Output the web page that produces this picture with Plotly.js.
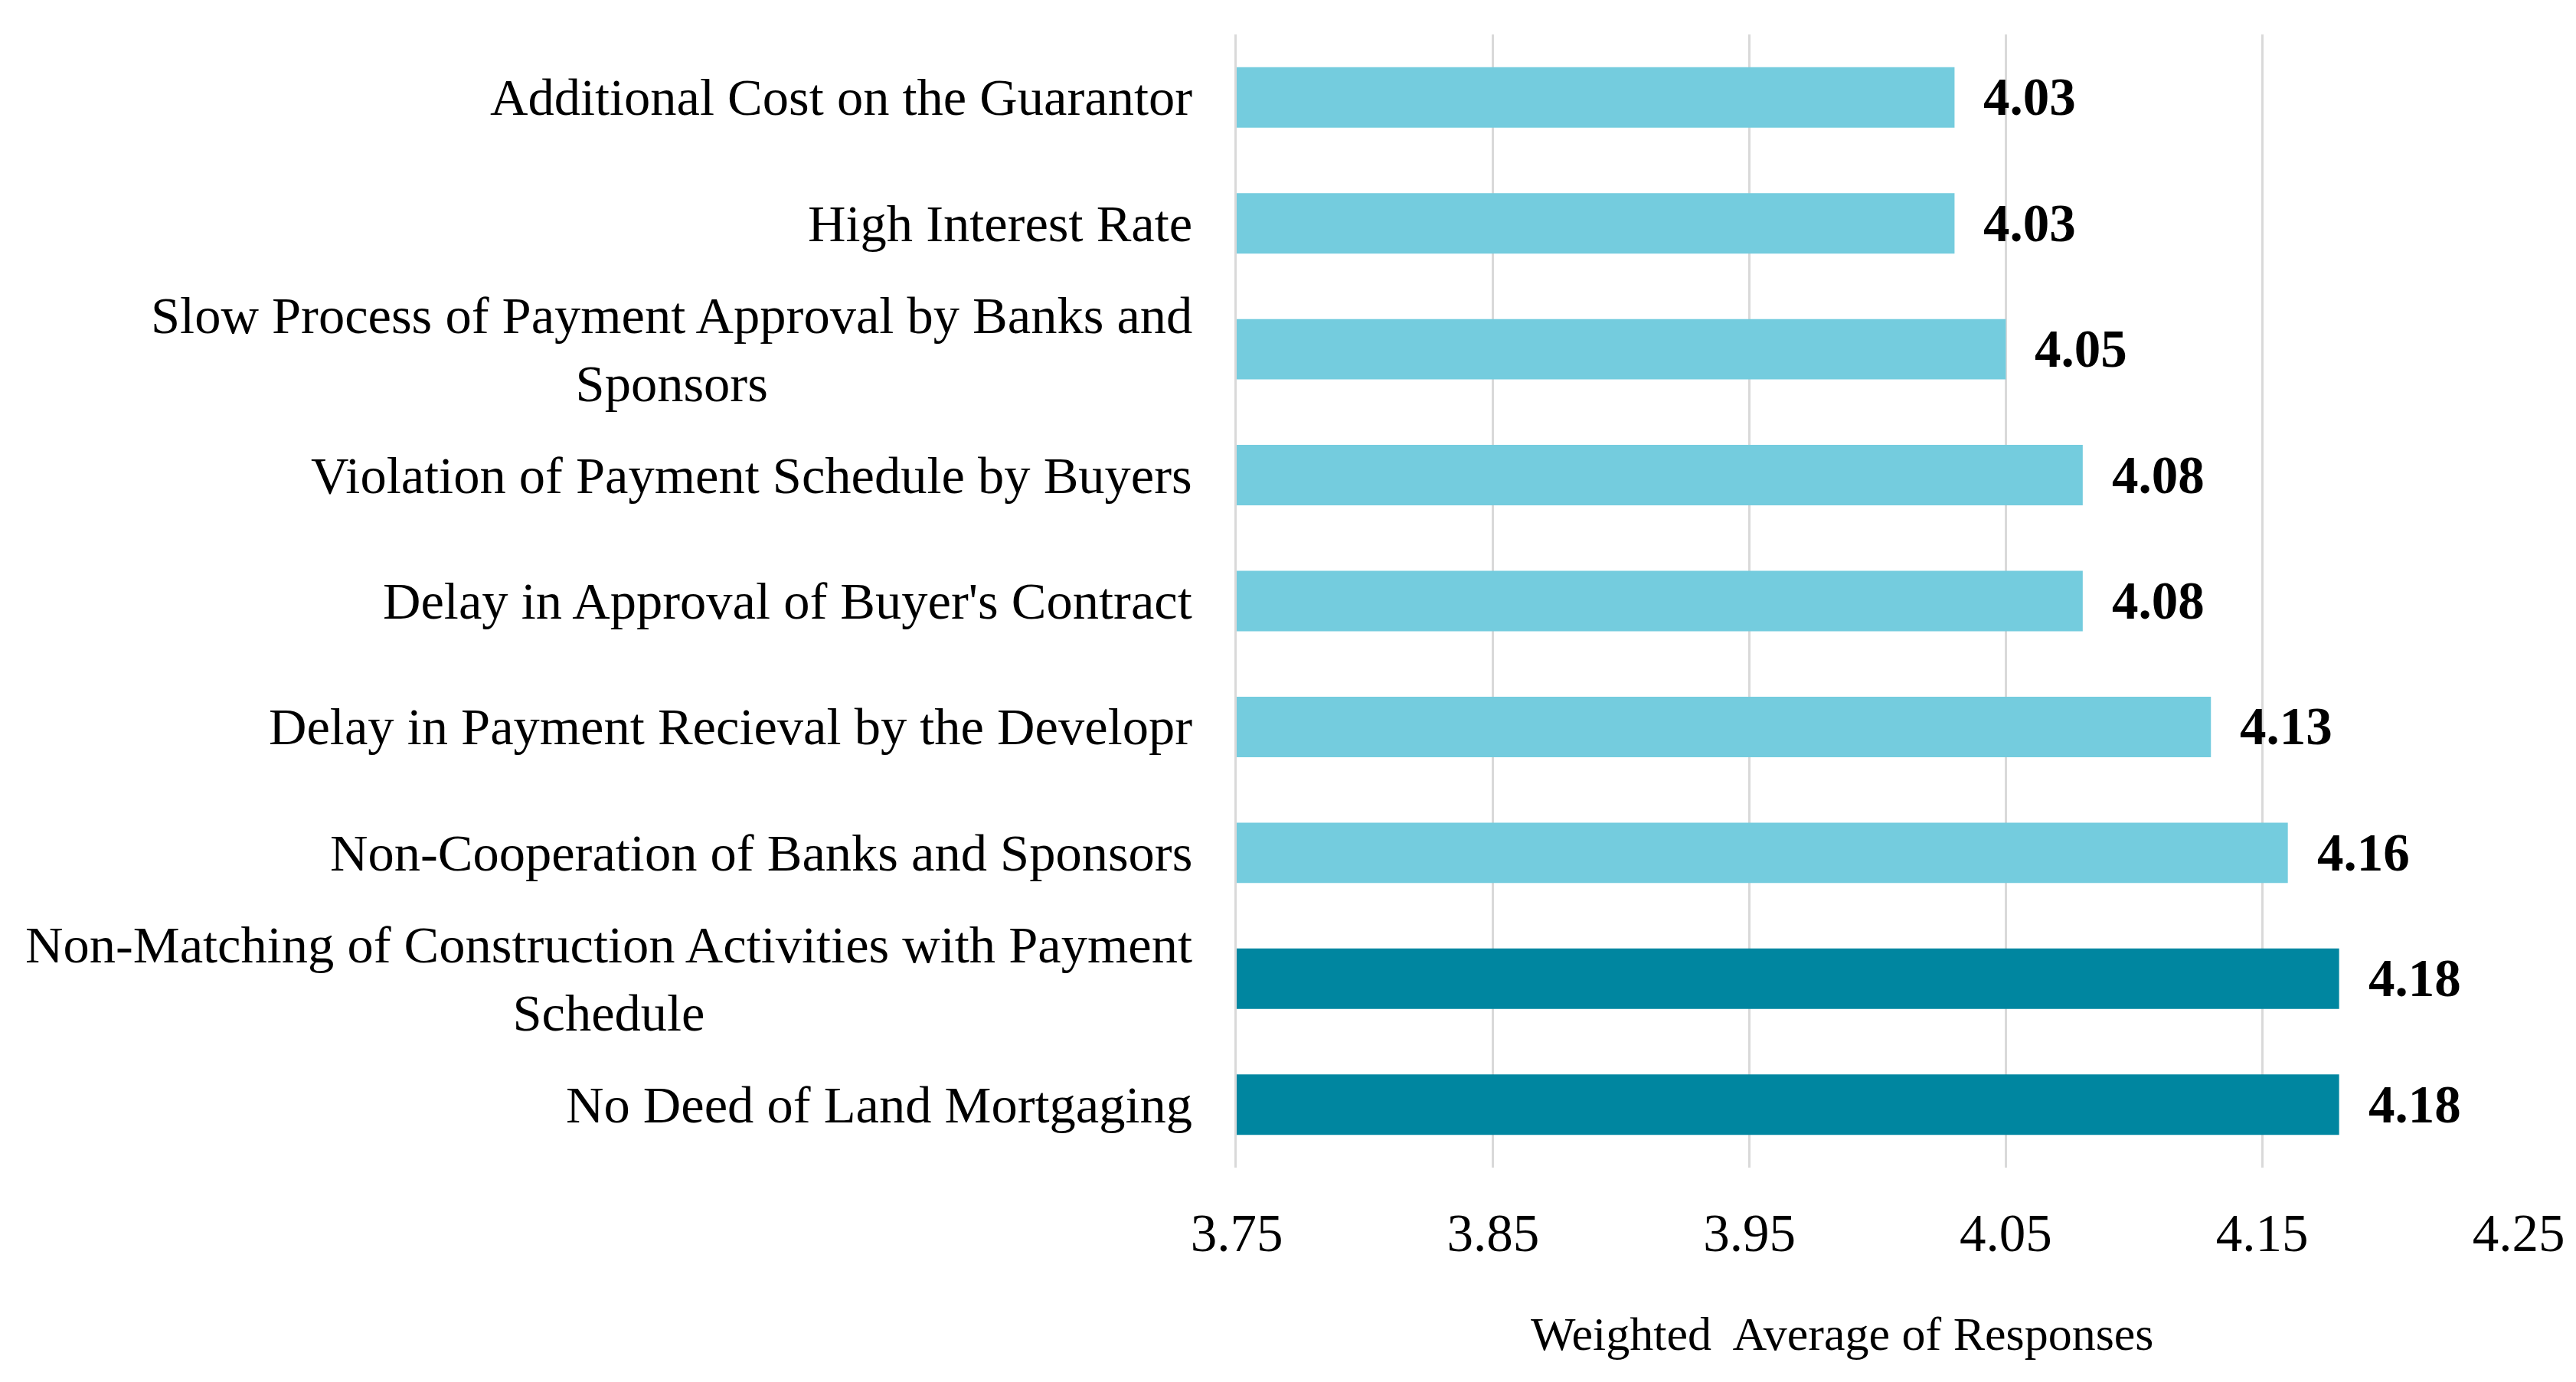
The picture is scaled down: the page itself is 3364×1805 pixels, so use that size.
<!DOCTYPE html>
<html>
<head>
<meta charset="utf-8">
<script src="https://cdn.plot.ly/plotly-3.0.1.min.js"></script>
<style>html,body{margin:0;padding:0;background:#fff;}#chart{width:3364px;height:1805px;}</style>
</head>
<body>
<div id="chart"></div>
<script>
const categories = [
  "Additional Cost on the Guarantor",
  "High Interest Rate",
  "Slow Process of Payment Approval by Banks and<br>Sponsors",
  "Violation of Payment Schedule by Buyers",
  "Delay in Approval of Buyer's Contract",
  "Delay in Payment Recieval by the Developr",
  "Non-Cooperation of Banks and Sponsors",
  "Non-Matching of Construction Activities with Payment<br>Schedule",
  "No Deed of Land Mortgaging"
];
const values = [4.03, 4.03, 4.05, 4.08, 4.08, 4.13, 4.16, 4.18, 4.18];
const highlight = [false, false, false, false, false, false, false, true, true];
const xTicks = [3.75, 3.85, 3.95, 4.05, 4.15, 4.25];
const xTitle = "Weighted&nbsp; Average of Responses";

const LIGHT = "rgb(116,204,222)";
const DARK = "rgb(0,134,160)";
const FONT = "Liberation Serif, Times New Roman, serif";

const trace = {
  type: "bar",
  orientation: "h",
  x: values,
  y: categories,
  marker: { color: highlight.map(h => h ? DARK : LIGHT) },
  hoverinfo: "x+y"
};

const annotations = [];
categories.forEach((c, i) => {
  annotations.push({
    xref: "paper", yref: "y", x: 0, y: c,
    text: c, showarrow: false, xanchor: "right", yanchor: "middle",
    align: "center", xshift: -56,
    font: { family: FONT, size: 68.5, color: "#000" }
  });
  annotations.push({
    xref: "x", yref: "y", x: values[i], y: c,
    text: values[i].toFixed(2), showarrow: false, xanchor: "left", yanchor: "middle",
    xshift: 36,
    font: { family: FONT, size: 69, color: "#000", weight: "bold" }
  });
});
annotations.push({
  xref: "paper", yref: "paper", x: 0.5, y: 0,
  text: xTitle, showarrow: false, xanchor: "center", yanchor: "middle",
  xshift: -47, yshift: -217,
  font: { family: FONT, size: 62, color: "#000" }
});

const layout = {
  width: 3364, height: 1805,
  margin: { l: 1615, r: 75, t: 45, b: 280, pad: 0 },
  paper_bgcolor: "#fff", plot_bgcolor: "#fff",
  showlegend: false,
  bargap: 0.52,
  xaxis: {
    range: [3.75, 4.25],
    tickvals: xTicks,
    ticktext: xTicks.map(v => v.toFixed(2)),
    showgrid: true, gridcolor: "#D9D9D9", gridwidth: 3,
    zeroline: false, showline: false,
    ticks: "outside", ticklen: 25, tickcolor: "rgba(0,0,0,0)",
    tickfont: { family: FONT, size: 69, color: "#000" },
    automargin: false, fixedrange: true
  },
  yaxis: {
    type: "category",
    autorange: "reversed",
    showticklabels: false,
    showgrid: false, zeroline: false,
    showline: true, linecolor: "#D9D9D9", linewidth: 3,
    ticks: "", automargin: false, fixedrange: true
  },
  annotations: annotations
};

Plotly.newPlot("chart", [trace], layout, { displayModeBar: false, staticPlot: true });
</script>
</body>
</html>
